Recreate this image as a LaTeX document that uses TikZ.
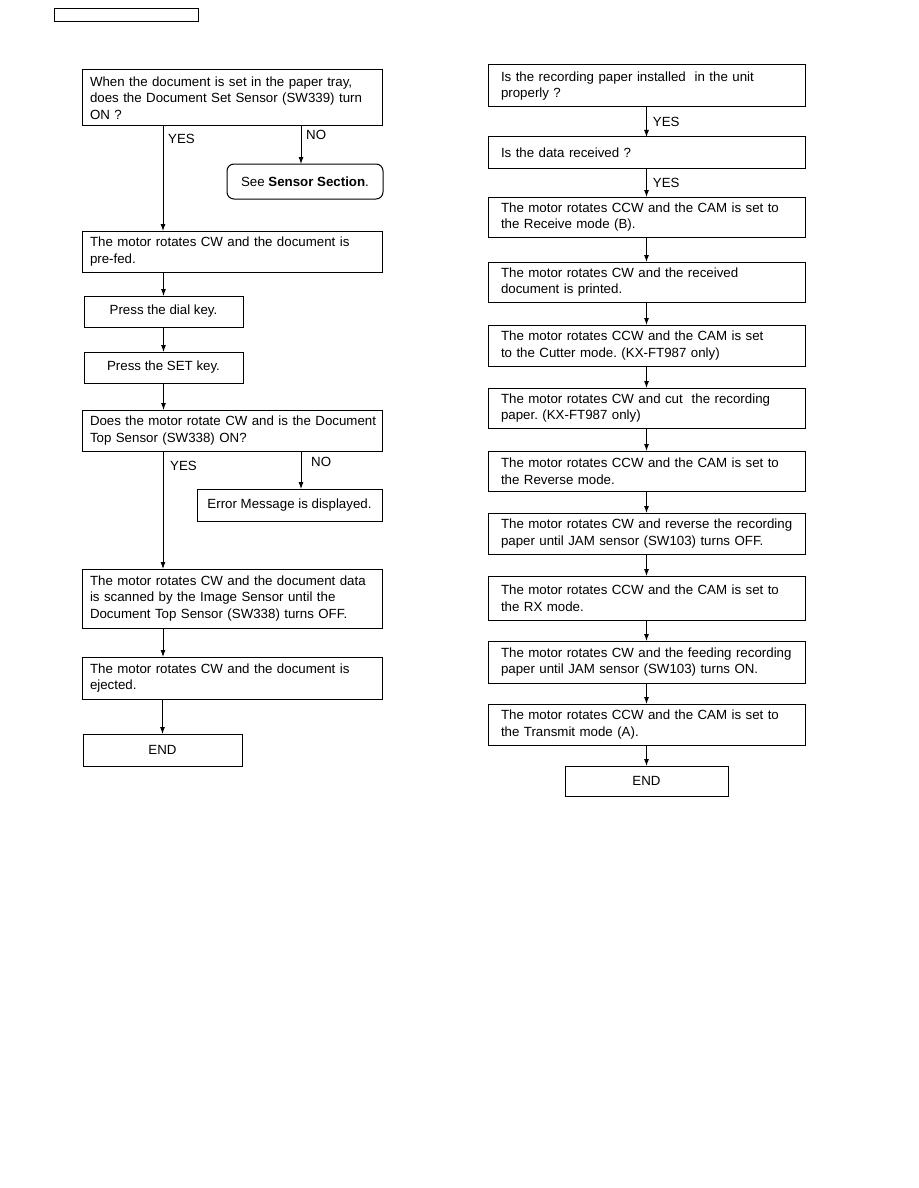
\documentclass[tikz,border=0pt]{standalone}
\usepackage{fontspec}
\setmainfont{Liberation Sans}
\usetikzlibrary{arrows.meta,positioning}

\begin{document}
\begin{tikzpicture}[x=1pt,y=-1pt,
  every node/.style={font=\fontsize{13.3}{16.5}\selectfont\frenchspacing},
  lb/.style={draw,line width=1pt,outer sep=0pt,anchor=north west,align=left,text width=284pt,inner xsep=8pt,inner ysep=0pt,minimum height=41pt},
  rb/.style={draw,line width=1pt,outer sep=0pt,align=left,text width=291pt,inner xsep=13pt,inner ysep=0pt,minimum height=41pt},
  sb/.style={draw,line width=1pt,outer sep=0pt,anchor=north west,align=center,minimum height=31pt,inner sep=0pt},
  arrow/.style={-{Latex[length=7pt,width=5pt]},line width=0.9pt},
  lbl/.style={anchor=west,inner sep=0pt}
]
  \useasboundingbox (0,0) rectangle (918,1188);
  \node[draw,line width=1pt,anchor=north west,minimum width=144pt,minimum height=13pt,inner sep=0pt] (hdr) at (54,8) {};

  % left column
  \node[lb,minimum height=56pt] (q1) at (82,70) {When the document is set in the paper tray,\\does the Document Set Sensor (SW339) turn\\ON ?};
  \node[sb,rounded corners=7pt,minimum width=156pt,minimum height=35pt] (see) at (227,164) {See \textbf{Sensor Section}.};
  \node[lb] (prefed) at (82,231) {The motor rotates CW and the document is\\pre-fed.};
  \node[sb,minimum width=159pt] (dial) at (84,296) {Press the dial key.};
  \node[sb,minimum width=159pt] (setkey) at (84,352) {Press the SET key.};
  \node[lb] (q2) at (82,410) {\mbox{Does the motor rotate CW and is the Document}\\Top Sensor (SW338) ON?};
  \node[sb,minimum width=185pt,minimum height=32pt] (err) at (197,489) {Error Message is displayed.};
  \node[lb,minimum height=59pt] (scan) at (82,569) {\mbox{The motor rotates CW and the document data}\\is scanned by the Image Sensor until the\\Document Top Sensor (SW338) turns OFF.};
  \node[lb,minimum height=42pt] (eject) at (82,657) {The motor rotates CW and the document is\\ejected.};
  \node[sb,minimum width=159pt,minimum height=32pt] (lend) at (83,734) {END};

  \coordinate (ya) at (163,0);
  \coordinate (na) at (301,0);
  \draw[arrow] (ya |- q1.south) -- (ya |- prefed.north);
  \draw[arrow] (na |- q1.south) -- (na |- see.north);
  \node[lbl] (yes1) at (168,139) {YES};
  \node[lbl] (no1) at (306,135) {NO};
  \draw[arrow] (dial.north |- prefed.south) -- (dial.north);
  \draw[arrow] (dial) -- (setkey);
  \draw[arrow] (setkey.south) -- (setkey.south |- q2.north);
  \draw[arrow] (ya |- q2.south) -- (ya |- scan.north);
  \draw[arrow] (na |- q2.south) -- (na |- err.north);
  \node[lbl] (yes2) at (170,466) {YES};
  \node[lbl] (no2) at (311,462) {NO};
  \draw[arrow] (ya |- scan.south) -- (ya |- eject.north);
  \draw[arrow] (lend.north |- eject.south) -- (lend.north);

  % right column
  \node[rb,anchor=north west,minimum height=42pt] (r1) at (488,65) {Is the recording paper installed~ in the unit\\properly ?};
  \node[rb,minimum height=31pt,below=30pt of r1] (r2) {Is the data received ?};
  \node[rb,minimum height=40pt,below=29pt of r2] (r3) {The motor rotates CCW and the CAM is set to\\the Receive mode (B).};
  \node[rb,minimum height=40pt,below=25pt of r3] (r4) {The motor rotates CW and the received\\document is printed.};
  \node[rb,below=23pt of r4] (r5) {The motor rotates CCW and the CAM is set\\to the Cutter mode. (KX-FT987 only)};
  \node[rb,minimum height=40pt,below=22pt of r5] (r6) {The motor rotates CW and cut~ the recording\\paper. (KX-FT987 only)};
  \node[rb,minimum height=40pt,below=23pt of r6] (r7) {The motor rotates CCW and the CAM is set to\\the Reverse mode.};
  \node[rb,below=22pt of r7] (r8) {\mbox{The motor rotates CW and reverse the recording}\\paper until JAM sensor (SW103) turns OFF.};
  \node[rb,minimum height=44pt,below=22pt of r8] (r9) {The motor rotates CCW and the CAM is set to\\the RX mode.};
  \node[rb,minimum height=42pt,below=21pt of r9] (r10) {\mbox{The motor rotates CW and the feeding recording}\\paper until JAM sensor (SW103) turns ON.};
  \node[rb,below=21pt of r10] (r11) {The motor rotates CCW and the CAM is set to\\the Transmit mode (A).};
  \node[sb,minimum width=163pt,minimum height=30pt,below=21pt of r11] (rend) {END};

  \draw[arrow] (r1) -- node[lbl,right=6pt] (yes3) {YES} (r2);
  \draw[arrow] (r2) -- node[lbl,right=6pt] (yes4) {YES} (r3);
  \draw[arrow] (r3) -- (r4);
  \draw[arrow] (r4) -- (r5);
  \draw[arrow] (r5) -- (r6);
  \draw[arrow] (r6) -- (r7);
  \draw[arrow] (r7) -- (r8);
  \draw[arrow] (r8) -- (r9);
  \draw[arrow] (r9) -- (r10);
  \draw[arrow] (r10) -- (r11);
  \draw[arrow] (r11) -- (rend);
\end{tikzpicture}
\end{document}
